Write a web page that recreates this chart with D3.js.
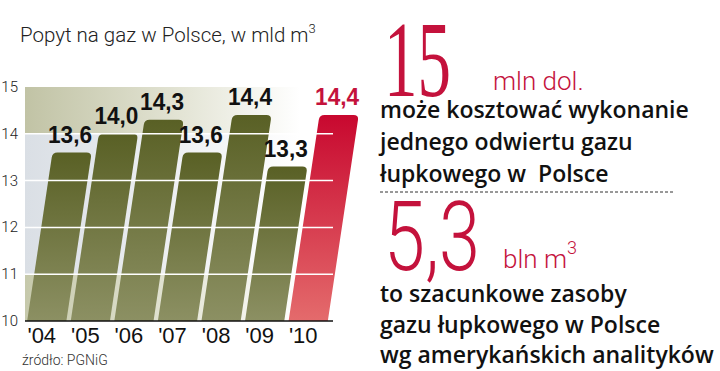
<!DOCTYPE html>
<html>
<head>
<meta charset="utf-8">
<script src="https://cdn.jsdelivr.net/npm/d3@7"></script>
<style>
  body { margin: 0; background: #fff; }
  svg { display: block; }
</style>
</head>
<body>
<svg id="chart" width="720" height="371"></svg>
<script>
// dane z wykresu
var years = ["'04", "'05", "'06", "'07", "'08", "'09", "'10"];
var demand = [13.6, 14.0, 14.3, 13.6, 14.4, 13.3, 14.4];
var valueLabels = ["13,6", "14,0", "14,3", "13,6", "14,4", "13,3", "14,4"];
var yTicks = [10, 11, 12, 13, 14, 15];
var gridTicks = [11, 12, 13, 14];

var red = "#c4123c";
var svg = d3.select("#chart");

var x = d3.scaleBand().domain(years).range([25, 330]).paddingInner(0.1).paddingOuter(0.05);
var y = d3.scaleLinear().domain([10, 15]).range([321, 87]);
var slant = 0.15;
var plotLeft = 25, plotRight = 333;

var defs = svg.append("defs");

function hGrad(id, from, mid) {
  var g = defs.append("linearGradient").attr("id", id)
    .attr("gradientUnits", "userSpaceOnUse")
    .attr("x1", plotLeft).attr("x2", 300).attr("y1", 0).attr("y2", 0);
  g.append("stop").attr("offset", 0).attr("stop-color", from);
  g.append("stop").attr("offset", 0.55).attr("stop-color", mid);
  g.append("stop").attr("offset", 1).attr("stop-color", "#ffffff");
}
hGrad("bgTop", "#c1c3a5", "#e2e3d3");
hGrad("bgMid", "#dadfe5", "#eef0f2");
hGrad("bgBot", "#c6c9ab", "#e3e4d4");

function vGrad(id, top, bottom) {
  var g = defs.append("linearGradient").attr("id", id)
    .attr("x1", 0).attr("x2", 0).attr("y1", 0).attr("y2", 1);
  g.append("stop").attr("offset", 0).attr("stop-color", top);
  g.append("stop").attr("offset", 1).attr("stop-color", bottom);
}
vGrad("olive", "#596025", "#8c9063");
vGrad("crimson", "#c8082f", "#e46b6c");

// tlo wykresu
var bands = [[15, 14, "bgTop"], [14, 11, "bgMid"], [11, 10, "bgBot"]];
svg.append("g").selectAll("rect").data(bands).enter().append("rect")
  .attr("x", plotLeft)
  .attr("width", plotRight - plotLeft)
  .attr("y", function(d){ return y(d[0]); })
  .attr("height", function(d){ return y(d[1]) - y(d[0]); })
  .attr("fill", function(d){ return "url(#" + d[2] + ")"; });

// slupki - rownolegloboki z zaokraglona gora
function barPath(i) {
  var xb = x(years[i]), w = x.bandwidth();
  var yb = y(10), yt = y(demand[i]);
  var h = yb - yt, shift = slant * h;
  var len = Math.sqrt(shift * shift + h * h);
  var dx = shift / len, dy = h / len, r = 5;
  var trX = xb + w + shift, tlX = xb + shift;
  return "M" + xb + "," + yb +
    "L" + (xb + w) + "," + yb +
    "L" + (trX - r * dx) + "," + (yt + r * dy) +
    "Q" + trX + "," + yt + " " + (trX - r) + "," + yt +
    "L" + (tlX + r) + "," + yt +
    "Q" + tlX + "," + yt + " " + (tlX - r * dx) + "," + (yt + r * dy) +
    "Z";
}

svg.append("g").selectAll("path").data(demand).enter().append("path")
  .attr("d", function(d, i){ return barPath(i); })
  .attr("fill", function(d, i){ return i === demand.length - 1 ? "url(#crimson)" : "url(#olive)"; });

// linie siatki
svg.append("g").selectAll("line").data(gridTicks).enter().append("line")
  .attr("x1", plotLeft).attr("x2", plotRight)
  .attr("y1", function(d){ return y(d); }).attr("y2", function(d){ return y(d); })
  .attr("stroke", "#ffffff").attr("stroke-width", 1.5);

svg.append("line")
  .attr("x1", plotLeft).attr("x2", plotRight)
  .attr("y1", y(10)).attr("y2", y(10))
  .attr("stroke", "#111").attr("stroke-width", 1.5);

// etykiety wartosci
svg.append("g").selectAll("text").data(demand).enter().append("text")
  .attr("x", function(d, i){ return x(years[i]) + x.bandwidth() / 2 + slant * (y(10) - y(d)) - 2; })
  .attr("y", function(d){ return y(d) - 10; })
  .attr("text-anchor", "middle")
  .attr("font-family", "Liberation Sans, Arial, sans-serif")
  .attr("font-weight", "bold")
  .attr("font-size", 24)
  .attr("textLength", 44).attr("lengthAdjust", "spacingAndGlyphs")
  .attr("fill", function(d, i){ return i === demand.length - 1 ? red : "#111"; })
  .text(function(d, i){ return valueLabels[i]; });

// os Y
svg.append("g").selectAll("text").data(yTicks).enter().append("text")
  .attr("x", 18)
  .attr("y", function(d){ return y(d) + 5; })
  .attr("text-anchor", "end")
  .attr("font-family", "Roboto, sans-serif")
  .attr("font-weight", 300)
  .attr("font-size", 15)
  .attr("fill", "#222")
  .text(function(d){ return d; });

// os X
svg.append("g").selectAll("text").data(years).enter().append("text")
  .attr("x", function(d){ return x(d) + x.bandwidth() / 2 - 5; })
  .attr("y", 343)
  .attr("text-anchor", "middle")
  .attr("font-family", "Liberation Sans, Arial, sans-serif")
  .attr("font-size", 22)
  .attr("fill", "#111")
  .text(function(d){ return d; });

// tytul i zrodlo
var title = svg.append("text")
  .attr("x", 20).attr("y", 42)
  .attr("font-family", "Roboto, sans-serif")
  .attr("font-weight", 300)
  .attr("font-size", 20.5)
  .attr("fill", "#222")
  .text("Popyt na gaz w Polsce, w mld m");
title.append("tspan").attr("font-size", 13).attr("dy", -9).text("3");

svg.append("text")
  .attr("x", 22).attr("y", 365)
  .attr("font-family", "Roboto, sans-serif")
  .attr("font-weight", 300)
  .attr("font-size", 14)
  .attr("fill", "#333")
  .text("źródło: PGNiG");

// prawa strona
svg.append("text")
  .attr("x", 384).attr("y", 96)
  .attr("font-family", "Liberation Serif, serif")
  .attr("font-size", 108)
  .attr("textLength", 67).attr("lengthAdjust", "spacingAndGlyphs")
  .attr("fill", red)
  .text("15");

svg.append("text")
  .attr("x", 493).attr("y", 90)
  .attr("font-family", "Roboto, sans-serif")
  .attr("font-weight", 300)
  .attr("font-size", 26)
  .attr("fill", red)
  .text("mln dol.");

var block1 = ["może kosztować wykonanie", "jednego odwiertu gazu", "łupkowego w  Polsce"];
var block2 = ["to szacunkowe zasoby", "gazu łupkowego w Polsce", "wg amerykańskich analityków"];

svg.append("g").selectAll("text").data(block1).enter().append("text")
  .attr("x", 380)
  .attr("y", function(d, i){ return 118 + i * 32; })
  .attr("font-family", "Open Sans, sans-serif")
  .attr("font-weight", 600)
  .attr("font-size", 23)
  .attr("fill", "#111")
  .style("white-space", "pre")
  .text(function(d){ return d; });

svg.append("line")
  .attr("x1", 380).attr("x2", 675)
  .attr("y1", 192).attr("y2", 192)
  .attr("stroke", "#333").attr("stroke-width", 1)
  .attr("stroke-dasharray", "3,2");

svg.append("text")
  .attr("x", 384).attr("y", 270)
  .attr("font-family", "Roboto, sans-serif")
  .attr("font-weight", 300)
  .attr("font-size", 96)
  .attr("textLength", 96).attr("lengthAdjust", "spacingAndGlyphs")
  .attr("fill", red)
  .text("5,3");

var bln = svg.append("text")
  .attr("x", 503).attr("y", 268)
  .attr("font-family", "Roboto, sans-serif")
  .attr("font-weight", 300)
  .attr("font-size", 26)
  .attr("fill", red)
  .text("bln m");
bln.append("tspan").attr("font-size", 18).attr("dy", -14).text("3");

svg.append("g").selectAll("text").data(block2).enter().append("text")
  .attr("x", 380)
  .attr("y", function(d, i){ return 302 + i * 30.5; })
  .attr("font-family", "Open Sans, sans-serif")
  .attr("font-weight", 600)
  .attr("font-size", 23)
  .attr("fill", "#111")
  .text(function(d){ return d; });
</script>
</body>
</html>
